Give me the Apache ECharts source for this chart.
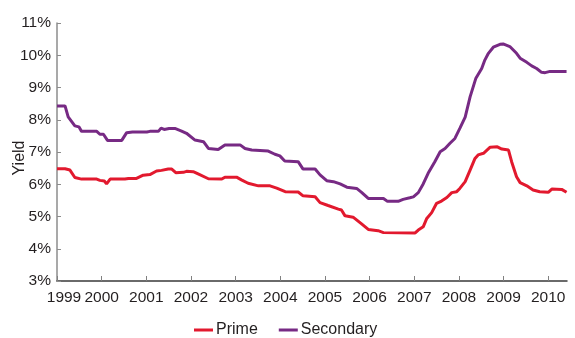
<!DOCTYPE html>
<html>
<head>
<meta charset="utf-8">
<title>Yield</title>
<script src="https://cdn.jsdelivr.net/npm/echarts@6/dist/echarts.min.js"></script>
<style>
  html, body { margin: 0; padding: 0; background: #ffffff; }
  #chart { width: 575px; height: 338px; }
</style>
</head>
<body>
<div id="chart"></div>
<script>
// Year tick labels along the time axis
const yearTicks = [1999, 2000, 2001, 2002, 2003, 2004, 2005, 2006, 2007, 2008, 2009, 2010];

// Prime yield (%), sampled at decimal-year dates
const primeDates = [
  1999.00, 1999.18, 1999.29, 1999.40, 1999.55, 1999.89, 1999.96, 2000.06, 2000.11, 2000.19,
  2000.52, 2000.60, 2000.78, 2000.93, 2001.08, 2001.23, 2001.34, 2001.49, 2001.57, 2001.66,
  2001.83, 2001.90, 2002.05, 2002.16, 2002.39, 2002.69, 2002.76, 2003.02, 2003.14, 2003.28,
  2003.51, 2003.77, 2003.92, 2004.11, 2004.40, 2004.51, 2004.78, 2004.89, 2005.07, 2005.30,
  2005.37, 2005.45, 2005.63, 2005.82, 2005.97, 2006.19, 2006.31, 2007.02, 2007.09, 2007.20,
  2007.28, 2007.39, 2007.50, 2007.61, 2007.73, 2007.84, 2007.95, 2008.02, 2008.14, 2008.25,
  2008.36, 2008.43, 2008.55, 2008.70, 2008.86, 2008.96, 2009.11, 2009.18, 2009.29, 2009.37,
  2009.52, 2009.66, 2009.81, 2010.00, 2010.08, 2010.30, 2010.41
];
const primeValues = [
  6.48, 6.48, 6.44, 6.21, 6.16, 6.16, 6.12, 6.10, 6.01, 6.16,
  6.16, 6.18, 6.18, 6.28, 6.30, 6.41, 6.43, 6.47, 6.47, 6.36,
  6.37, 6.40, 6.39, 6.32, 6.17, 6.16, 6.22, 6.22, 6.13, 6.03,
  5.95, 5.95, 5.88, 5.77, 5.76, 5.64, 5.61, 5.43, 5.34, 5.23,
  5.20, 5.02, 4.98, 4.77, 4.60, 4.56, 4.50, 4.49, 4.58, 4.68,
  4.94, 5.12, 5.41, 5.48, 5.59, 5.74, 5.77, 5.87, 6.08, 6.44,
  6.80, 6.91, 6.96, 7.15, 7.16, 7.09, 7.06, 6.70, 6.23, 6.05,
  5.95, 5.82, 5.77, 5.75, 5.85, 5.84, 5.75
];

// Secondary yield (%), sampled at decimal-year dates
const secondaryDates = [
  1999.00, 1999.18, 1999.25, 1999.40, 1999.49, 1999.55, 1999.89, 1999.96, 2000.04, 2000.13,
  2000.45, 2000.56, 2000.69, 2001.01, 2001.08, 2001.27, 2001.33, 2001.40, 2001.51, 2001.64,
  2001.79, 2001.90, 2002.09, 2002.28, 2002.39, 2002.61, 2002.76, 2003.10, 2003.21, 2003.36,
  2003.73, 2003.88, 2003.99, 2004.10, 2004.40, 2004.51, 2004.78, 2004.89, 2005.04, 2005.19,
  2005.34, 2005.49, 2005.71, 2005.82, 2005.97, 2006.31, 2006.40, 2006.64, 2006.75, 2006.90,
  2006.98, 2007.09, 2007.20, 2007.31, 2007.46, 2007.58, 2007.69, 2007.80, 2007.91, 2008.02,
  2008.14, 2008.25, 2008.38, 2008.51, 2008.58, 2008.66, 2008.77, 2008.92, 2008.99, 2009.14,
  2009.29, 2009.37, 2009.52, 2009.63, 2009.74, 2009.85, 2009.93, 2010.04, 2010.41
];
const secondaryValues = [
  8.43, 8.43, 8.09, 7.81, 7.78, 7.64, 7.64, 7.55, 7.55, 7.36,
  7.36, 7.60, 7.62, 7.62, 7.64, 7.64, 7.74, 7.70, 7.73, 7.73,
  7.65, 7.58, 7.37, 7.32, 7.11, 7.08, 7.22, 7.22, 7.11, 7.06,
  7.03, 6.93, 6.88, 6.72, 6.70, 6.47, 6.47, 6.29, 6.11, 6.08,
  6.01, 5.91, 5.87, 5.75, 5.56, 5.56, 5.47, 5.47, 5.53, 5.58,
  5.61, 5.74, 6.01, 6.34, 6.70, 7.01, 7.11, 7.27, 7.42, 7.73,
  8.08, 8.71, 9.29, 9.59, 9.85, 10.06, 10.25, 10.34, 10.35, 10.27,
  10.06, 9.91, 9.78, 9.67, 9.59, 9.47, 9.46, 9.50, 9.50
];

const zip = (xs, ys) => xs.map((x, i) => [x, ys[i]]);

const FONT = '"Liberation Sans", Arial, sans-serif';
const TEXT = '#231f20';
const RED = '#e2192e';
const PURPLE = '#772a84';

const chart = echarts.init(document.getElementById('chart'), null, { renderer: 'canvas' });

chart.setOption({
  animation: false,
  backgroundColor: '#ffffff',
  textStyle: { fontFamily: FONT, color: TEXT },
  grid: { left: 57, right: 8, top: 23, bottom: 57, containLabel: false },
  // Vertical axis title
  graphic: [{
    type: 'text',
    x: 20,
    y: 158,
    rotation: Math.PI / 2,
    style: {
      text: 'Yield',
      fontFamily: FONT,
      fontSize: 16,
      fill: TEXT,
      align: 'center',
      verticalAlign: 'middle'
    }
  }],
  legend: {
    left: 189,
    top: 317,
    icon: 'rect',
    itemWidth: 19,
    itemHeight: 3,
    itemGap: 21,
    textStyle: { fontFamily: FONT, fontSize: 16, color: TEXT, padding: [0, 0, 0, -2] },
    data: ['Prime', 'Secondary']
  },
  xAxis: {
    type: 'value',
    min: 1999,
    max: 2010.42,
    interval: 1,
    splitLine: { show: false },
    axisLine: { show: true, lineStyle: { color: '#3a3a3a', width: 1.5 } },
    axisTick: {
      show: true, inside: true, length: 5,
      customValues: yearTicks,
      lineStyle: { color: '#808080', width: 1 }
    },
    axisLabel: {
      customValues: yearTicks,
      margin: 9,
      alignMinLabel: 'center',
      alignMaxLabel: 'center',
      fontFamily: FONT, fontSize: 15.5, color: TEXT,
      // the first year label sits slightly to the right of its tick
      formatter: v => (Math.round(v) === yearTicks[0] ? '{first|' + Math.round(v) + '}' : String(Math.round(v))),
      rich: {
        first: { fontFamily: FONT, fontSize: 15.5, color: TEXT, padding: [0, 0, 0, 14] }
      }
    }
  },
  yAxis: {
    type: 'value',
    min: 3,
    max: 11,
    interval: 1,
    splitLine: { show: false },
    axisLine: { show: true, lineStyle: { color: '#8c8c8c', width: 1.5 } },
    axisTick: { show: true, inside: true, length: 4, lineStyle: { color: '#8c8c8c', width: 1 } },
    axisLabel: {
      margin: 6,
      fontFamily: FONT, fontSize: 15.5, color: TEXT,
      formatter: '{value}%'
    }
  },
  series: [
    {
      name: 'Prime',
      type: 'line',
      data: zip(primeDates, primeValues),
      showSymbol: false,
      symbol: 'none',
      lineStyle: { color: RED, width: 3 },
      itemStyle: { color: RED },
      z: 3
    },
    {
      name: 'Secondary',
      type: 'line',
      data: zip(secondaryDates, secondaryValues),
      showSymbol: false,
      symbol: 'none',
      lineStyle: { color: PURPLE, width: 3 },
      itemStyle: { color: PURPLE },
      z: 2
    }
  ]
});
</script>
</body>
</html>
